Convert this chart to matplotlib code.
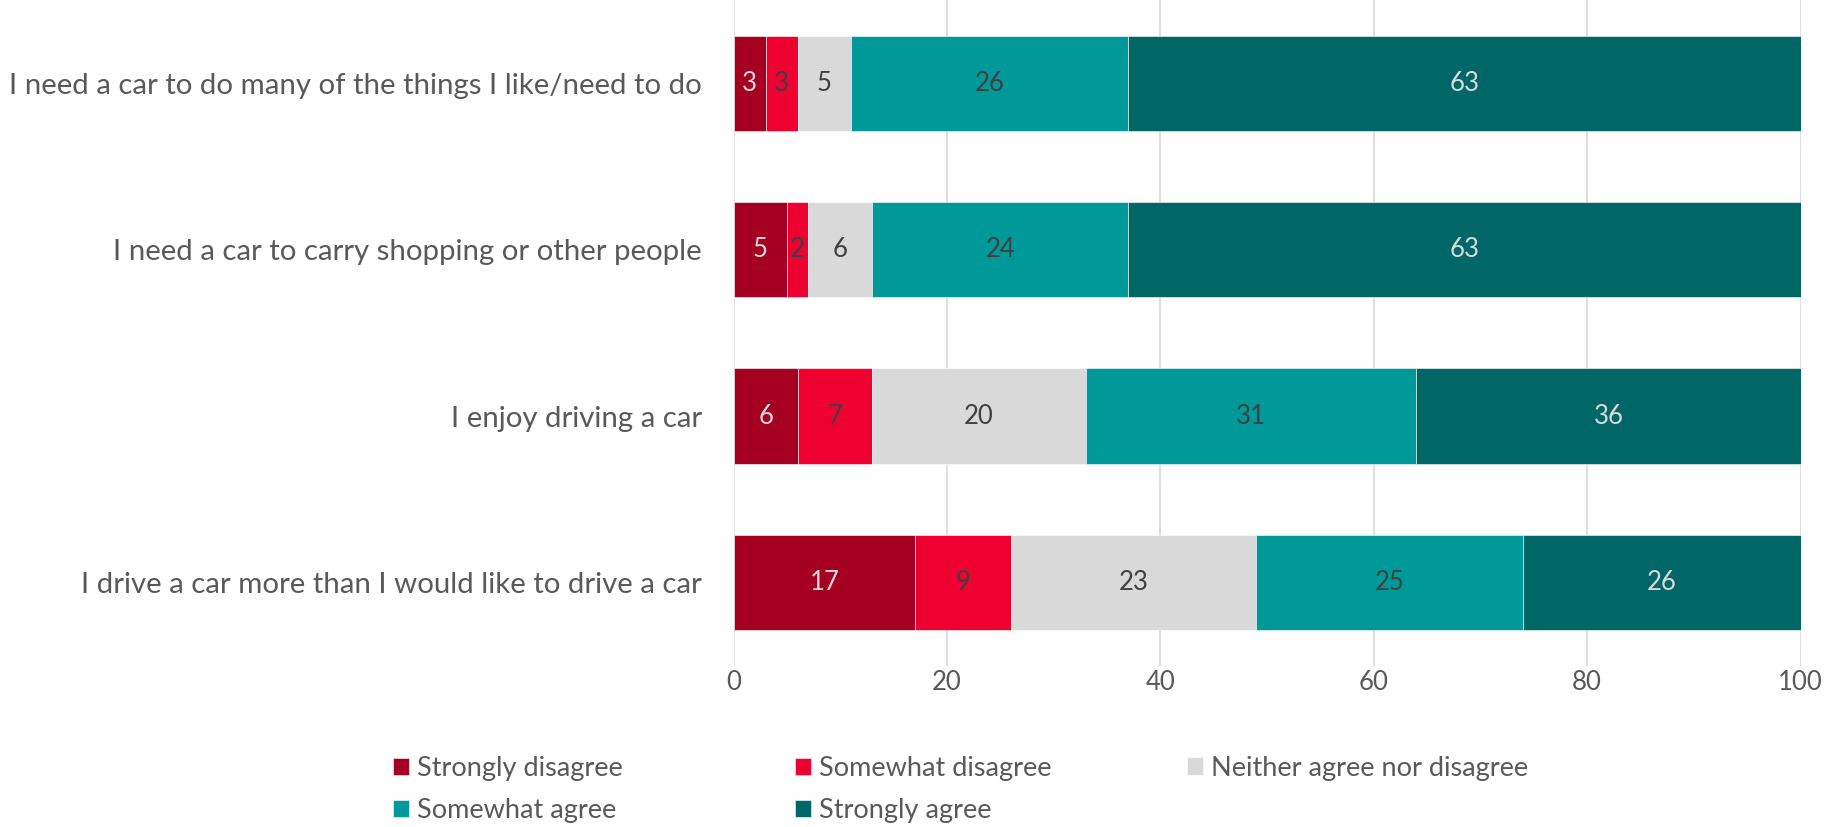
import matplotlib.pyplot as plt
import numpy as np

plt.rcParams['font.family'] = ['Lato', 'DejaVu Sans']

statements = [
    'I need a car to do many of the things I like/need to do',
    'I need a car to carry shopping or other people',
    'I enjoy driving a car',
    'I drive a car more than I would like to drive a car',
]
responses = ['Strongly disagree', 'Somewhat disagree', 'Neither agree nor disagree',
             'Somewhat agree', 'Strongly agree']

strongly_disagree = [3, 5, 6, 17]
somewhat_disagree = [3, 2, 7, 9]
neither = [5, 6, 20, 23]
somewhat_agree = [26, 24, 31, 25]
strongly_agree = [63, 63, 36, 26]

colors = ['#A50021', '#EE0030', '#D9D9D9', '#009999', '#006666']
label_colors = ['#D9D9D9', '#404040', '#404040', '#404040', '#D9D9D9']

series = [strongly_disagree, somewhat_disagree, neither, somewhat_agree, strongly_agree]

fig = plt.figure(figsize=(18.25, 8.27), dpi=100)
ax = fig.add_axes([0.402, 0.195, 0.5846, 0.805])

y = np.arange(len(statements))
left = np.zeros(len(statements))
handles = []
for vals, name, c, lc in zip(series, responses, colors, label_colors):
    vals = np.array(vals, dtype=float)
    bars = ax.barh(y, vals, left=left, height=0.572, color=c, label=name,
                   edgecolor='white', linewidth=0.4, zorder=2)
    handles.append(bars)
    for yi, l, v in zip(y, left, vals):
        ax.text(l + v / 2, yi, f'{v:.0f}', ha='center', va='center',
                fontsize=18.5, color=lc, zorder=3)
    left += vals

ax.set_xlim(0, 100)
ax.set_ylim(3.5, -0.5)
ax.set_xticks(range(0, 101, 20))
ax.set_yticks(y)
ax.set_yticklabels(statements)
ax.grid(axis='x', color='#D9D9D9', linewidth=1.2, zorder=0)
ax.set_axisbelow(True)
for s in ax.spines.values():
    s.set_visible(False)
ax.tick_params(axis='both', length=0, colors='#595959', labelsize=18.5)
ax.tick_params(axis='y', labelsize=21.2, pad=23)
ax.tick_params(axis='x', pad=3)

# legend laid out as fixed-width columns, filled row by row
legend_cols = [([0, 3], 0.2153, 0.0453), ([1, 4], 0.4356, 0.0453), ([2], 0.6504, 0.0713)]
for idx, x0, y0 in legend_cols:
    leg = fig.legend([handles[i] for i in idx], [responses[i] for i in idx],
                     loc='center left', bbox_to_anchor=(x0, y0),
                     frameon=False, fontsize=19.5, labelcolor='#595959',
                     handlelength=0.6, handleheight=0.6, handletextpad=0.3,
                     labelspacing=0.6, borderpad=0, borderaxespad=0)

fig.savefig('out.png', dpi=100)
